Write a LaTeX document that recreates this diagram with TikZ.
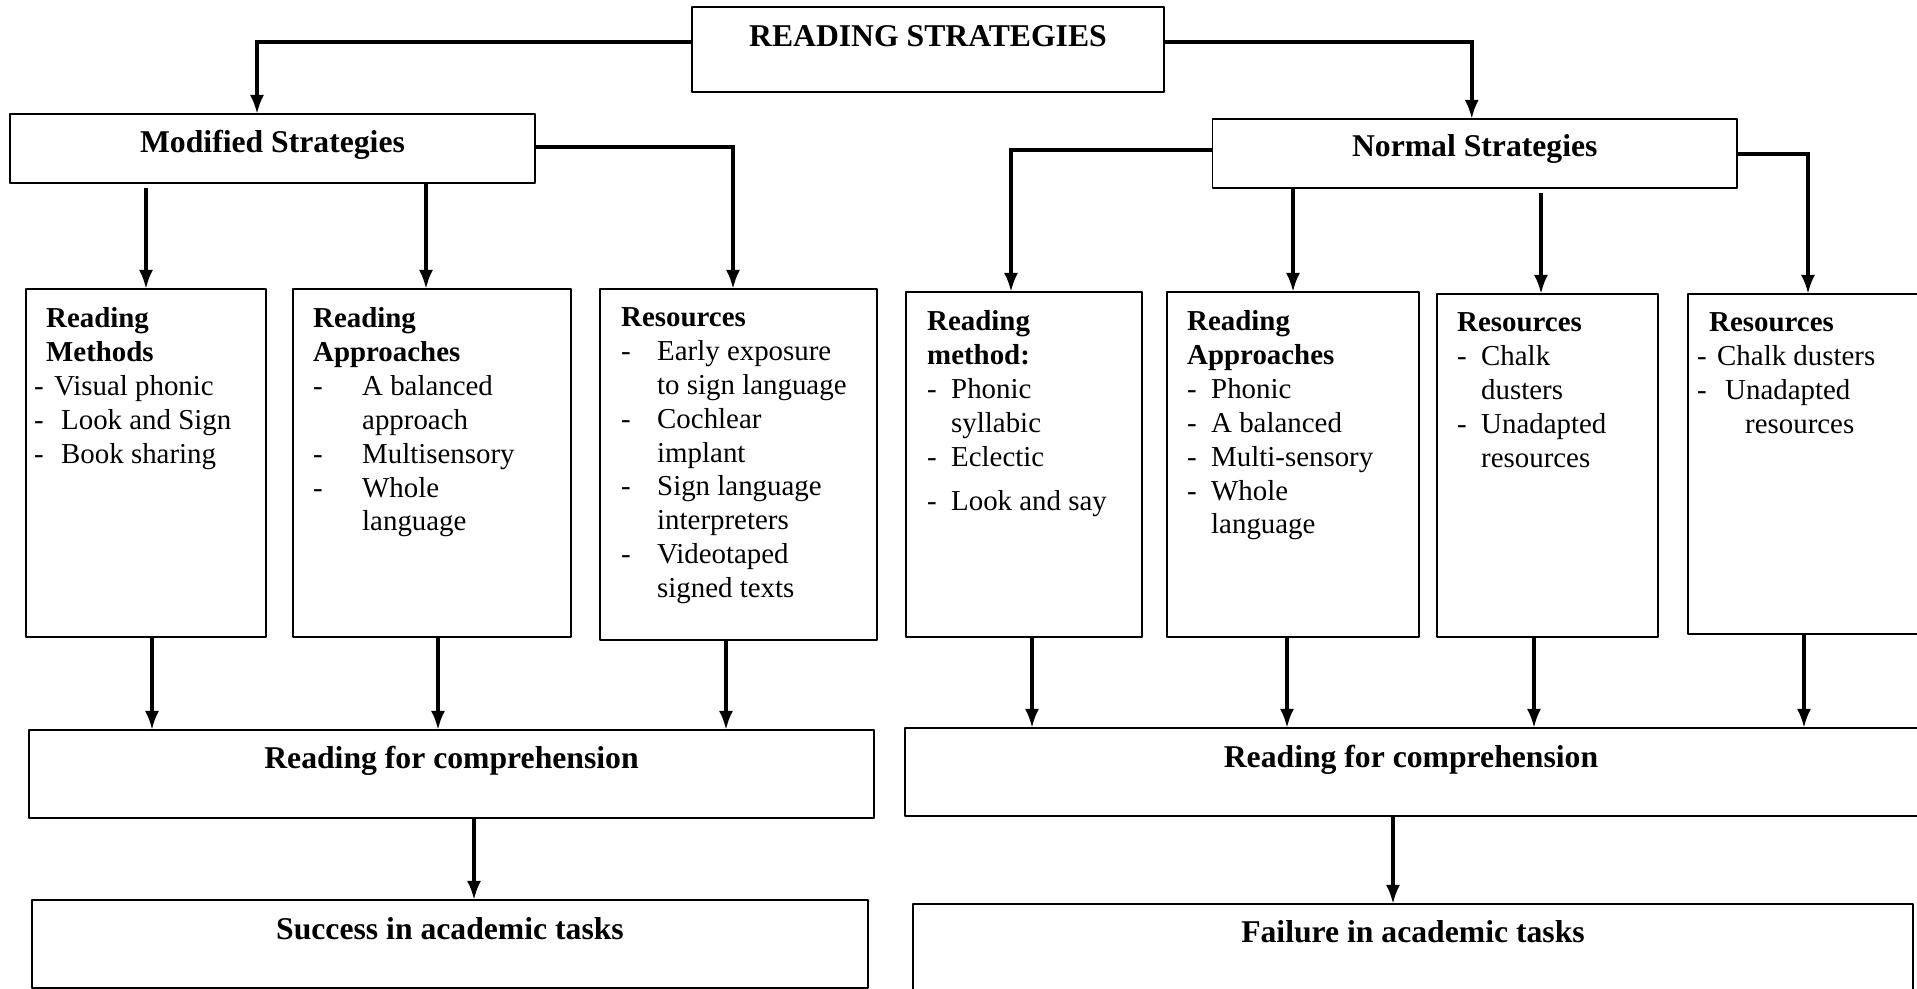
\documentclass[tikz,border=0pt]{standalone}
\usepackage{fontspec}
\setmainfont{Liberation Serif}
\usetikzlibrary{arrows.meta,calc}

\begin{document}
\begin{tikzpicture}[>={Latex[length=19bp,width=14bp]},line join=bevel,
  box/.style={draw=black,line width=1.3bp,inner sep=0pt,outer sep=0pt},
  headtext/.style={font=\fontsize{31.8}{36}\selectfont\bfseries,inner sep=0pt,anchor=base},
  listtext/.style={font=\fontsize{29}{34}\selectfont,inner sep=0pt,align=left,anchor=north west},
  link/.style={->,line width=3.5bp,line join=miter}]
  \useasboundingbox (0bp,0bp) rectangle (1917bp,989bp);
  \clip (0bp,0bp) rectangle (1917bp,989bp);
%%
  % Node: title
  \node[box,minimum width=472bp,minimum height=85bp] (title) at (928bp,939.5bp) {};
  \node[headtext] (title-t) at (928bp,942bp) {READING STRATEGIES};
  % Node: mod
  \node[box,minimum width=525bp,minimum height=69bp] (mod) at (272.5bp,840.5bp) {};
  \node[headtext] (mod-t) at (272.5bp,836bp) {Modified Strategies};
  % Node: norm
  \node[box,minimum width=524.5bp,minimum height=69bp] (norm) at (1474.75bp,835.5bp) {};
  \node[headtext] (norm-t) at (1474.75bp,832bp) {Normal Strategies};
  % Node: lb1
  \node[box,minimum width=240bp,minimum height=348bp] (lb1) at (146bp,526bp) {};
  \node[listtext] (lb1-t) at ([xshift=8bp,yshift=-18.4bp]lb1.north west)
    {\hspace*{12bp}\textbf{Reading}\\ \hspace*{12bp}\textbf{Methods}\\
     \makebox[20bp][l]{-}Visual phonic\\ \makebox[27bp][l]{-}Look and Sign\\
     \makebox[27bp][l]{-}Book sharing};
  % Node: lb2
  \node[box,minimum width=278bp,minimum height=348bp] (lb2) at (432bp,526bp) {};
  \node[listtext] (lb2-t) at ([xshift=20bp,yshift=-18.4bp]lb2.north west)
    {\textbf{Reading}\\ \textbf{Approaches}\\
     \makebox[49bp][l]{-}A balanced\\ \hspace*{49bp}approach\\
     \makebox[49bp][l]{-}Multisensory\\ \makebox[49bp][l]{-}Whole\\
     \hspace*{49bp}language};
  % Node: lb3
  \node[box,minimum width=277bp,minimum height=351bp] (lb3) at (738.5bp,524.5bp) {};
  \node[listtext] (lb3-t) at ([xshift=21bp,yshift=-18.4bp]lb3.north west)
    {\textbf{Resources}\\
     \makebox[36bp][l]{-}Early exposure\\ \hspace*{36bp}to sign language\\
     \makebox[36bp][l]{-}Cochlear\\ \hspace*{36bp}implant\\
     \makebox[36bp][l]{-}Sign language\\ \hspace*{36bp}interpreters\\
     \makebox[36bp][l]{-}Videotaped\\ \hspace*{36bp}signed texts};
  % Node: rb1
  \node[box,minimum width=236bp,minimum height=345bp] (rb1) at (1024bp,524.5bp) {};
  \node[listtext] (rb1-t) at ([xshift=21bp,yshift=-18.4bp]rb1.north west)
    {\textbf{Reading}\\ \textbf{method:}\\
     \makebox[24bp][l]{-}Phonic\\ \hspace*{24bp}syllabic\\
     \makebox[24bp][l]{-}Eclectic\\[10bp]
     \makebox[24bp][l]{-}Look and say};
  % Node: rb2
  \node[box,minimum width=252bp,minimum height=345bp] (rb2) at (1293bp,524.5bp) {};
  \node[listtext] (rb2-t) at ([xshift=20bp,yshift=-18.4bp]rb2.north west)
    {\textbf{Reading}\\ \textbf{Approaches}\\
     \makebox[24bp][l]{-}Phonic\\ \makebox[24bp][l]{-}A balanced\\
     \makebox[24bp][l]{-}Multi-sensory\\ \makebox[24bp][l]{-}Whole\\
     \hspace*{24bp}language};
  % Node: rb3
  \node[box,minimum width=221bp,minimum height=343bp] (rb3) at (1547.5bp,523.5bp) {};
  \node[listtext] (rb3-t) at ([xshift=20bp,yshift=-18.4bp]rb3.north west)
    {\textbf{Resources}\\
     \makebox[24bp][l]{-}Chalk\\ \hspace*{24bp}dusters\\
     \makebox[24bp][l]{-}Unadapted\\ \hspace*{24bp}resources};
  % Node: rb4
  \node[box,minimum width=232bp,minimum height=340bp] (rb4) at (1804bp,525bp) {};
  \node[listtext] (rb4-t) at ([xshift=9bp,yshift=-18.4bp]rb4.north west)
    {\hspace*{12bp}\textbf{Resources}\\
     \makebox[20bp][l]{-}Chalk dusters\\
     \makebox[28bp][l]{-}Unadapted\\ \hspace*{48bp}resources};
  % Node: rcl
  \node[box,minimum width=845bp,minimum height=88bp] (rcl) at (451.5bp,215bp) {};
  \node[headtext] (rcl-t) at (451.5bp,220bp) {Reading for comprehension};
  % Node: rcr
  \node[box,minimum width=1015bp,minimum height=88bp] (rcr) at (1412.5bp,217bp) {};
  \node[headtext] (rcr-t) at (1411bp,221bp) {Reading for comprehension};
  % Node: succ
  \node[box,minimum width=836bp,minimum height=88bp] (succ) at (450bp,45bp) {};
  \node[headtext] (succ-t) at (450bp,49bp) {Success in academic tasks};
  % Node: fail
  \node[box,minimum width=1000bp,minimum height=88bp] (fail) at (1413bp,41bp) {};
  \node[headtext] (fail-t) at (1413bp,46bp) {Failure in academic tasks};
%%
  % Edge: title -> mod
  \draw[link] ([yshift=7.5bp]title.west) -| ([xshift=-15.5bp]mod.north);
  % Edge: title -> norm
  \draw[link] ([yshift=7.5bp]title.east) -| ([xshift=-3bp]norm.north);
  % Edge: mod -> lb1
  \draw[link] ($(mod.south -| lb1.north)+(0,-5bp)$) -- (lb1.north);
  % Edge: mod -> lb2
  \draw[link] ($(mod.south -| lb2.north)+(-6bp,0)$) -- ([xshift=-6bp]lb2.north);
  % Edge: mod -> lb3
  \draw[link] ([yshift=1.5bp]mod.east) -| ([xshift=-5.5bp]lb3.north);
  % Edge: norm -> rb1
  \draw[link] ([yshift=3.5bp]norm.west) -| ([xshift=-13bp]rb1.north);
  % Edge: norm -> rb2
  \draw[link] (norm.south -| rb2.north) -- (rb2.north);
  % Edge: norm -> rb3
  \draw[link] ($(norm.south -| rb3.north)+(-6.5bp,-5bp)$) -- ([xshift=-6.5bp]rb3.north);
  % Edge: norm -> rb4
  \draw[link] ([yshift=-0.5bp]norm.east) -| ([xshift=4bp]rb4.north);
  % Edge: lb1 -> rcl
  \draw[link] ([xshift=6bp]lb1.south) -- ($(lb1.south |- rcl.north)+(6bp,0)$);
  % Edge: lb2 -> rcl
  \draw[link] ([xshift=6bp]lb2.south) -- ($(lb2.south |- rcl.north)+(6bp,0)$);
  % Edge: lb3 -> rcl
  \draw[link] ([xshift=-12.5bp]lb3.south) -- ($(lb3.south |- rcl.north)+(-12.5bp,0)$);
  % Edge: rb1 -> rcr
  \draw[link] ([xshift=8bp]rb1.south) -- ($(rb1.south |- rcr.north)+(8bp,0)$);
  % Edge: rb2 -> rcr
  \draw[link] ([xshift=-6bp]rb2.south) -- ($(rb2.south |- rcr.north)+(-6bp,0)$);
  % Edge: rb3 -> rcr
  \draw[link] ([xshift=-13.5bp]rb3.south) -- ($(rb3.south |- rcr.north)+(-13.5bp,0)$);
  % Edge: rb4 -> rcr
  \draw[link] (rb4.south) -- (rb4.south |- rcr.north);
  % Edge: rcl -> succ
  \draw[link] ([xshift=22.5bp]rcl.south) -- ($(rcl.south |- succ.north)+(22.5bp,0)$);
  % Edge: rcr -> fail
  \draw[link] ([xshift=-19.5bp]rcr.south) -- ($(rcr.south |- fail.north)+(-19.5bp,0)$);
%
\end{tikzpicture}
\end{document}
